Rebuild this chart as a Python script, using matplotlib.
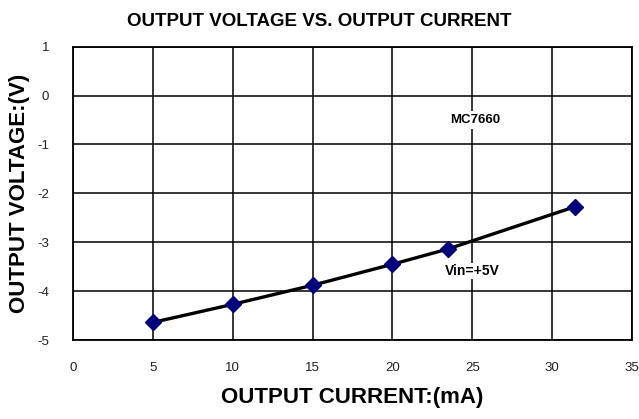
import matplotlib
matplotlib.use("Agg")
import matplotlib.pyplot as plt

# output current (mA) vs output voltage (V), MC7660, Vin=+5V
current_ma = [5, 10, 15, 20, 23.45, 31.45]
voltage_v = [-4.64, -4.27, -3.88, -3.45, -3.14, -2.27]

x_ticks = [0, 5, 10, 15, 20, 25, 30, 35]
y_ticks = [1, 0, -1, -2, -3, -4, -5]

plt.rcParams["font.family"] = ["Liberation Sans", "DejaVu Sans"]
plt.rcParams["axes.unicode_minus"] = False

fig = plt.figure(figsize=(6.39, 4.19), dpi=100)
ax = fig.add_axes([0.1142, 0.1885, 0.875, 0.7])

ax.plot(current_ma, voltage_v, color="black", linewidth=2.4, zorder=3)
ax.plot(current_ma, voltage_v, linestyle="none", marker="D", markersize=8,
        color="#00007a", zorder=4)

ax.set_xlim(0, 35)
ax.set_ylim(-5, 1)
ax.set_xticks(x_ticks)
ax.set_yticks(y_ticks)
ax.tick_params(length=0, labelsize=9.5, labelcolor="#222222")
ax.tick_params(axis="x", pad=16)
ax.tick_params(axis="y", pad=17)
ax.grid(True, color="black", linewidth=1.1)
for sp in ax.spines.values():
    sp.set_linewidth(1.3)

ax.text(25.2, -0.5, "MC7660", fontsize=9.5, fontweight="bold", ha="center",
        va="center", bbox=dict(facecolor="white", edgecolor="none", pad=2),
        zorder=5)
ax.text(25.0, -3.59, "Vin=+5V", fontsize=10, fontweight="bold", ha="center",
        va="center", bbox=dict(facecolor="white", edgecolor="none", pad=1),
        zorder=5)

fig.suptitle("OUTPUT VOLTAGE VS. OUTPUT CURRENT", fontsize=13.5,
             fontweight="semibold", x=0.5, y=0.968)
ax.set_xlabel("OUTPUT CURRENT:(mA)", fontsize=16, fontweight="bold", labelpad=9)
ax.set_ylabel("OUTPUT VOLTAGE:(V)", fontsize=16, fontweight="bold", labelpad=5)

fig.savefig("out.png", dpi=100)
